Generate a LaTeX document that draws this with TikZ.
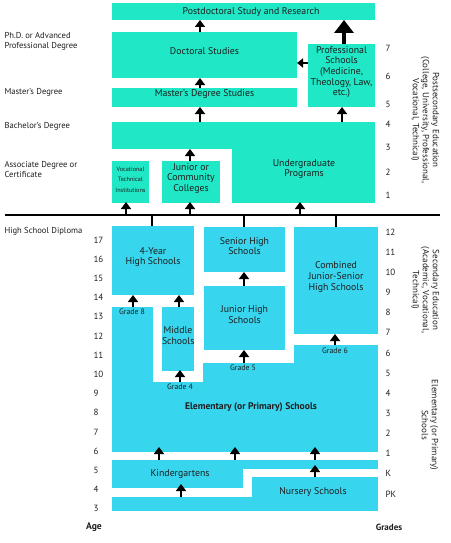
\documentclass[tikz,border=0pt]{standalone}
\usepackage{fontspec}
\setmainfont{PT Sans}
\usetikzlibrary{arrows.meta,fit}
\definecolor{teal1}{RGB}{32,232,198}
\definecolor{cyan1}{RGB}{56,213,238}
\definecolor{ink}{RGB}{30,30,30}
\begin{document}
\begin{tikzpicture}[x=1pt,y=-1pt, font=\fontsize{9.8}{10.6}\selectfont, text=ink,
  pbox/.style={fill=teal1, inner sep=0pt, outer sep=0pt, align=center},
  sbox/.style={fill=cyan1, inner sep=0pt, outer sep=0pt, align=center},
  arr/.style={line width=2.6pt, -{Triangle[width=10pt,length=7pt]}},
  bigarr/.style={line width=4pt, -{Triangle[width=19pt,length=13pt]}},
  tick/.style={line width=1.3pt},
  lab/.style={anchor=west, font=\fontsize{8.6}{10}\selectfont, align=left},
  num/.style={anchor=west, font=\fontsize{9}{10}\selectfont},
  grade/.style={font=\fontsize{7.8}{8}\selectfont},
  side/.style={rotate=-90, align=center, font=\fontsize{9}{10}\selectfont}]
\useasboundingbox (0,0) rectangle (450,543);

% ---------- postsecondary ----------
\node[pbox, fit={(112,3)(375,20)}] (postdoc) {};
\node (postdoclab) at (251,12) {Postdoctoral Study and Research};
\node[pbox, fit={(112,32)(297,78)}] (doct) {Doctoral Studies};
\node[pbox, fit={(112,88)(297,107)}] (masters) {Master's Degree Studies};
\node[pbox, fit={(308,44)(375,107)}] (prof) {Professional\\Schools\\(Medicine,\\Theology, Law,\\etc.)};
\node[pbox, fit={(112,122)(375,149)}] (ugtop) {};
\node[pbox, fit={(232,122)(375,203)}] (ug) {};
\node (uglab) at (304,169) [align=center] {Undergraduate\\Programs};
\node[pbox, fit={(112,161)(149,203)}, font=\fontsize{6.2}{10.5}\selectfont] (voc) {Vocational\\Technical\\Institutions};
\node[pbox, fit={(162,161)(220,203)}] (jcc) {Junior or\\Community\\Colleges};

% ---------- divider ----------
\coordinate (hlA) at (5,215);
\coordinate (hlB) at (440,215);
\draw[line width=2.5pt] (hlA) -- (hlB);

% ---------- secondary ----------
\node[sbox, fit={(112,226)(194,295)}] (hs4) {4-Year\\High Schools};
\node[sbox, fit={(204,227)(285,272)}] (senior) {Senior High\\Schools};
\node[sbox, fit={(294,227)(378,334)}] (comb) {Combined\\Junior-Senior\\High Schools};
\node[sbox, fit={(204,286)(285,350)}] (junior) {Junior High\\Schools};
\node[sbox, fit={(162,307)(194,371)}] (middle) {Middle\\Schools};

% ---------- elementary ----------
\node[sbox, fit={(112,307)(153,452)}] (g8col) {};
\node[sbox, fit={(152,382)(378,452)}] (elem) {};
\node[sbox, fit={(203,363)(378,383)}] (g5part) {};
\node[sbox, fit={(294,345)(378,364)}] (g6part) {};
\node[font=\bfseries\fontsize{9.6}{10.5}\selectfont] (elemlab) at (251,407) {Elementary (or Primary) Schools};
\node[grade] (g8) at (132,312) {Grade 8};
\node[grade] (g4) at (180,387) {Grade 4};
\node[grade] (g5) at (243,368) {Grade 5};
\node[grade] (g6) at (335,351) {Grade 6};

% ---------- kindergarten / nursery ----------
\node[sbox, fit={(112,460)(378,469)}] (kgtop) {};
\node[sbox, fit={(112,468)(243,488)}] (kg) {};
\node (kglab) at (180,474) {Kindergartens};
\node[sbox, fit={(252,477)(378,498)}] (nur) {};
\node[sbox, fit={(112,497)(378,511)}] (nurbot) {};
\node (nurlab) at (313,492) {Nursery Schools};

% ---------- arrows ----------
\draw[arr] (200,0 |- doct.north) -- (200,0 |- postdoc.south);
\draw[arr] (200,0 |- masters.north) -- (200,0 |- doct.south);
\draw[arr] (200,0 |- ugtop.north) -- (200,0 |- masters.south);
\draw[arr] (342,0 |- ug.north) -- (342,0 |- prof.south);
\draw[bigarr] (344,0 |- prof.north) -- (344,0 |- postdoc.south);
\draw[line width=2.4pt, -{Triangle[width=9pt,length=6pt]}] (prof.west |- 0,63) -- (doct.east |- 0,63);
\draw[arr] (190,0 |- jcc.north) -- (190,0 |- ugtop.south);
\draw[arr, shorten >=-1pt] (126,0 |- hlA) -- (126,0 |- voc.south);
\draw[arr, shorten >=-1pt] (190,0 |- hlA) -- (190,0 |- jcc.south);
\draw[arr, shorten >=-1pt] (300,0 |- hlA) -- (300,0 |- ug.south);
\draw[tick] (152,0 |- hlA) -- (152,0 |- hs4.north);
\draw[tick] (244,0 |- hlA) -- (244,0 |- senior.north);
\draw[tick] (336,0 |- hlA) -- (336,0 |- comb.north);
\draw[arr] (133,0 |- g8col.north) -- (133,0 |- hs4.south);
\draw[arr] (179,0 |- middle.north) -- (179,0 |- hs4.south);
\draw[arr, shorten >=-1pt] (180,0 |- elem.north) -- (180,0 |- middle.south);
\draw[arr] (244,0 |- junior.north) -- (244,0 |- senior.south);
\draw[arr] (244,0 |- g5part.north) -- (244,0 |- junior.south);
\draw[arr] (335,0 |- g6part.north) -- (335,0 |- comb.south);
\draw[arr, shorten >=-5pt] (159,0 |- kgtop.north) -- (159,0 |- elem.south);
\draw[arr, shorten >=-5pt] (235,0 |- kgtop.north) -- (235,0 |- elem.south);
\draw[arr, shorten >=-5pt] (315,0 |- kgtop.north) -- (315,0 |- elem.south);
\draw[arr, shorten >=-4pt] (315,0 |- nur.north) -- (315,0 |- kgtop.south);
\draw[arr, shorten >=-4pt] (181,0 |- nurbot.north) -- (181,0 |- kg.south);

% ---------- left labels ----------
\node[lab] (phd) at (1,41) {Ph.D. or Advanced\\Professional Degree};
\node[lab] (ma) at (1,92) {Master's Degree};
\node[lab] (ba) at (1,126) {Bachelor's Degree};
\node[lab] (assoc) at (1,169) {Associate Degree or\\Certificate};
\node[lab] (hsd) at (1,231) {High School Diploma};
\foreach \a [count=\i from 0] in {17,16,...,3}
  \node[num] (age\a) at (90,240+\i*19.2) {\a};
\node[font=\bfseries\fontsize{9.6}{10}\selectfont] (agelab) at (94,527) {Age};

% ---------- right numbers ----------
\foreach \g/\y in {7/48,6/76,5/104,4/124,3/147,2/172,1/195}
  \node[num] (ps\g) at (382,\y) {\g};
\foreach \g [count=\i from 0] in {12,11,10,9,8,7,6,5,4,3,2,1,K,PK}
  \node[num] (gr\g) at (382,232+\i*20.15) {\g};
\node[font=\bfseries\fontsize{9}{10}\selectfont] (gradelab) at (389,527) {Grades};

% ---------- side labels ----------
\node[side] (pslab) at (425,120) {Postsecondary Education\\(College, University, Professional,\\Vocational, Technical)};
\node[side] (seclab) at (425,290) {Secondary Education\\(Academic, Vocational,\\Technical)};
\node[side] (elab) at (430,425) {Elementary (or Primary)\\Schools};
\end{tikzpicture}
\end{document}
